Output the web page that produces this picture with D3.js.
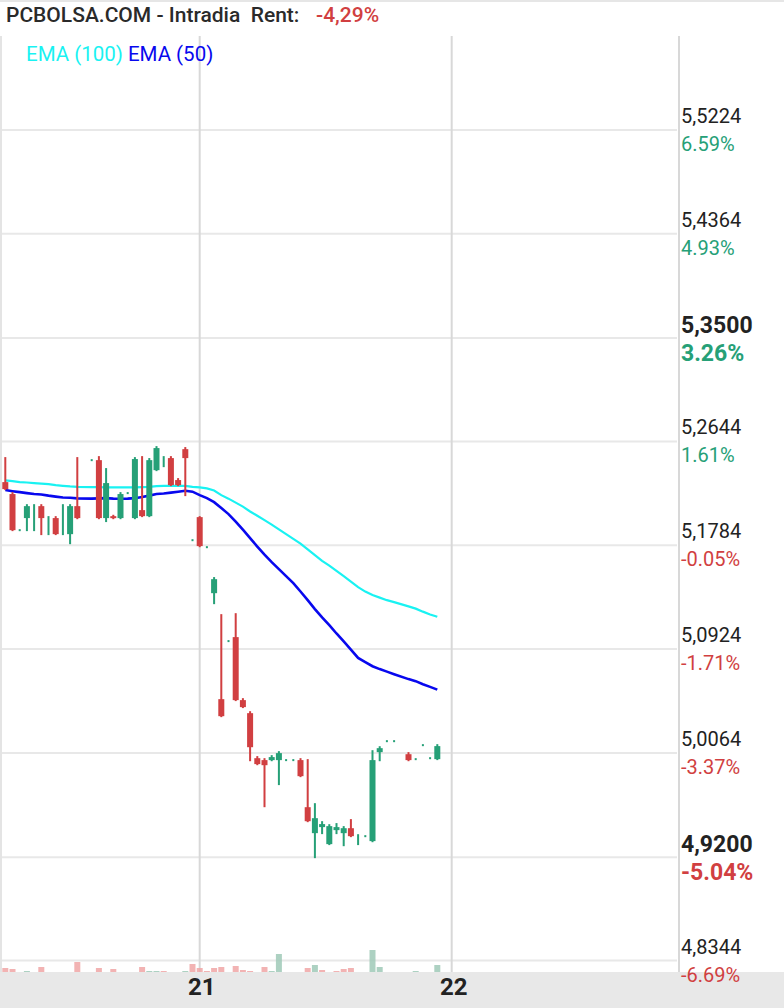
<!DOCTYPE html>
<html>
<head>
<meta charset="utf-8">
<script src="https://cdn.jsdelivr.net/npm/d3@7"></script>
<style>
  body { margin: 0; background: #fff; }
  svg { display: block; font-family: Roboto, "Noto Sans", sans-serif; }
</style>
</head>
<body>
<div id="chart"></div>
<script>
// intraday 15 min candles, index = slot (null = no trade in that slot)
var opens = [5.2307,5.2208,5.1909,5.2009,5.2108,5.2108,5.2009,5.2009,5.2108,5.1876,5.2108,null,
  5.2489,5.2489,5.2009,5.2025,5.2009,5.2216,5.2009,5.2075,5.2025,5.2406,5.2431,5.2506,5.2324,5.2580,
  5.1826,5.2017,5.1768,5.1387,5.0509,5.0990,5.1023,5.0501,5.0393,5.0020,5.0004,5.0004,5.0004,5.0004,
  5.0004,5.0004,4.9614,4.9399,4.9449,4.9308,4.9424,4.9399,4.9440,4.9382,4.9374,4.9333,5.0070,5.0161,
  5.0161,null,5.0053,5.0012,5.0128,5.0020,5.0012]
var highs = [5.2506,5.2216,5.1909,5.2116,5.2116,5.2116,5.2017,5.2017,5.2116,5.2116,5.2506,null,
  5.2489,5.2514,5.2415,5.2028,5.2216,5.2216,5.2506,5.2514,5.2498,5.2597,5.2514,5.2514,5.2332,5.2589,
  5.1826,5.2017,5.1768,5.1512,5.1205,5.0990,5.1213,5.0509,5.0401,5.0029,5.0012,5.0037,5.0070,5.0004,
  5.0004,5.0012,5.0004,4.9639,4.9490,4.9465,4.9474,4.9449,4.9507,4.9382,4.9374,5.0078,5.0111,5.0161,
  5.0161,null,5.0062,5.0012,5.0128,5.0020,5.0128]
var lows = [5.2241,5.1901,5.1909,5.1901,5.1901,5.1868,5.1868,5.1868,5.1868,5.1793,5.2000,null,
  5.2489,5.2000,5.1976,5.2000,5.2000,5.2216,5.2000,5.2017,5.2017,5.2398,5.2431,5.2274,5.2274,5.2191,
  5.1826,5.1768,5.1768,5.1296,5.0360,5.0990,5.0493,5.0435,4.9995,4.9962,4.9614,4.9995,4.9797,5.0004,
  5.0004,4.9863,4.9490,4.9192,4.9391,4.9300,4.9391,4.9291,4.9366,4.9300,4.9374,4.9324,4.9995,5.0161,
  5.0161,null,4.9995,5.0012,5.0128,5.0020,5.0004]
var closes = [5.2249,5.1909,5.1909,5.2108,5.2108,5.2009,5.2009,5.1876,5.2108,5.2108,5.2009,null,
  5.2489,5.2009,5.2299,5.2009,5.2208,5.2216,5.2498,5.2025,5.2489,5.2589,5.2431,5.2282,5.2282,5.2506,
  5.1826,5.1777,5.1768,5.1503,5.0368,5.0990,5.0501,5.0443,5.0111,4.9971,4.9962,5.0029,5.0062,5.0004,
  5.0004,4.9871,4.9498,4.9523,4.9474,4.9457,4.9449,4.9440,4.9374,4.9382,4.9374,5.0004,5.0103,5.0161,
  5.0161,null,5.0004,5.0012,5.0128,5.0020,5.0120]
var volumes = [10000,7500,0,2500,0,12500,0,0,0,0,25000,null,
  0,10000,0,7500,0,0,0,12500,2500,2500,2500,0,0,2500,
  20000,10000,2500,10000,12500,0,15000,5000,2500,0,12500,2500,45000,0,
  0,0,10000,17500,5000,0,2500,7500,10000,0,0,55000,12500,0,
  0,null,0,2500,0,0,17500]
var ema100 = [5.2321,5.2315,5.2307,5.2304,5.2299,5.2295,5.2290,5.2282,5.2276,5.2271,5.2268,null,
  5.2266,5.2266,5.2263,5.2263,5.2263,5.2263,5.2263,5.2266,5.2268,5.2274,5.2276,5.2276,5.2276,5.2276,
  5.2268,5.2263,5.2255,5.2237,5.2199,5.2170,5.2137,5.2104,5.2064,5.2028,5.1992,5.1955,5.1915,5.1876,
  5.1837,5.1797,5.1749,5.1702,5.1655,5.1615,5.1571,5.1528,5.1483,5.1437,5.1400,5.1371,5.1350,5.1329,
  5.1313,null,5.1278,5.1259,5.1234,5.1211,5.1191]
var ema50 = [5.2241,5.2232,5.2224,5.2216,5.2209,5.2205,5.2195,5.2187,5.2180,5.2177,5.2172,null,
  5.2170,5.2172,5.2174,5.2170,5.2169,5.2170,5.2174,5.2183,5.2195,5.2208,5.2213,5.2220,5.2227,5.2235,
  5.2228,5.2199,5.2174,5.2141,5.2092,5.2042,5.1980,5.1913,5.1843,5.1773,5.1706,5.1644,5.1586,5.1528,
  5.1470,5.1401,5.1329,5.1255,5.1186,5.1122,5.1053,5.0987,5.0919,5.0851,5.0816,5.0782,5.0758,5.0737,
  5.0716,null,5.0675,5.0658,5.0633,5.0611,5.0588]

var dayTicks = [27, 62]
var dayLabels = ["21", "22"]
var priceTicks = [5.5224, 5.4364, 5.35, 5.2644, 5.1784, 5.0924, 5.0064, 4.92, 4.8344]
var boldTicks = [5.35, 4.92]
var refPrice = 5.181

var W = 784, H = 1008
var plot = {left: 1, right: 679, top: 36, bottom: 972}
var red = "#d13f41", green = "#26a077"
var cyan = "#19f2f2", blue = "#0808ee"

var svg = d3.select("#chart").append("svg")
  .attr("width", W).attr("height", H)

var x = d3.scaleLinear().domain([0, 60]).range([5.3, 437.3])
var y = d3.scaleLinear().domain([4.8344, 5.5224]).range([960.5, 130])
var vol = d3.scaleLinear().domain([0, d3.max(volumes)]).range([0, 22])

var comma = d3.formatLocale({decimal: ",", thousands: ".", grouping: [3], currency: ["", "€"]})
var fmtPrice = comma.format(".4f")

// bars: one object per slot that traded
var bars = []
for (var i = 0; i < opens.length; i++){
  if (opens[i] == null) continue
  bars.push({i: i, o: opens[i], h: highs[i], l: lows[i], c: closes[i], v: volumes[i]})
}
for (var j = 0; j < bars.length; j++){
  var prev = j > 0 ? bars[j-1].c : bars[j].o
  bars[j].up = bars[j].c > prev
}

// header strip + bottom axis band
svg.append("rect").attr("x", 0).attr("y", 0).attr("width", W).attr("height", 2).style("fill", "#e6e6e6")
svg.append("rect").attr("x", 0).attr("y", plot.bottom).attr("width", W).attr("height", H - plot.bottom).style("fill", "#e8e8e8")

// horizontal grid
svg.selectAll(".hgrid").data(priceTicks).enter().append("line")
  .attr("x1", plot.left).attr("x2", plot.right - 2)
  .attr("y1", function(d){ return y(d) }).attr("y2", function(d){ return y(d) })
  .style("stroke", "#e8e8e8").style("stroke-width", 2)

// vertical day lines + frame
svg.selectAll(".vgrid").data(dayTicks).enter().append("line")
  .attr("x1", function(d){ return x(d) }).attr("x2", function(d){ return x(d) })
  .attr("y1", plot.top).attr("y2", plot.bottom)
  .style("stroke", "#d8d8d8").style("stroke-width", 2)
svg.append("line").attr("x1", plot.right).attr("x2", plot.right).attr("y1", plot.top).attr("y2", plot.bottom)
  .style("stroke", "#d8d8d8").style("stroke-width", 2)
svg.append("line").attr("x1", 1).attr("x2", 1).attr("y1", plot.top).attr("y2", plot.bottom)
  .style("stroke", "#e4e4e4").style("stroke-width", 2)

// volume
svg.selectAll(".vol").data(bars.filter(function(d){ return d.v > 0 })).enter().append("rect")
  .attr("x", function(d){ return x(d.i) - 3 })
  .attr("y", function(d){ return plot.bottom - vol(d.v) })
  .attr("width", 6)
  .attr("height", function(d){ return vol(d.v) })
  .style("fill", function(d){ return d.up ? "#9fc9b7" : "#f0a6a6" })
  .style("opacity", 0.85)

// ema lines
var emaLine = function(values){
  var pts = []
  values.forEach(function(v, i){ if (v != null) pts.push([x(i), y(v)]) })
  return d3.line()(pts)
}
svg.append("path").attr("d", emaLine(ema100))
  .attr("fill", "none").attr("stroke", cyan).attr("stroke-width", 2.2)
svg.append("path").attr("d", emaLine(ema50))
  .attr("fill", "none").attr("stroke", blue).attr("stroke-width", 2.6)

// candles
var candle = svg.selectAll(".candle").data(bars).enter().append("g")
candle.append("rect")
  .attr("x", function(d){ return x(d.i) - 1 })
  .attr("y", function(d){ return y(d.h) - 1 })
  .attr("width", 2)
  .attr("height", function(d){ return Math.max(2, y(d.l) - y(d.h) + 1) })
  .style("fill", function(d){ return d.c >= d.o ? green : red })
candle.filter(function(d){ return d.o != d.c }).append("rect")
  .attr("x", function(d){ return x(d.i) - 3 })
  .attr("y", function(d){ return y(Math.max(d.o, d.c)) })
  .attr("width", 6)
  .attr("height", function(d){ return Math.max(2, Math.abs(y(d.o) - y(d.c))) })
  .style("fill", function(d){ return d.c >= d.o ? green : red })

// right price axis
priceTicks.forEach(function(t){
  var bold = boldTicks.indexOf(t) >= 0
  var pct = (t / refPrice - 1) * 100
  svg.append("text")
    .attr("x", 681).attr("y", y(t) - (bold ? 5 : 7))
    .style("font-size", bold ? "23px" : "20px")
    .style("font-weight", bold ? "bold" : "normal")
    .style("fill", "#222")
    .text(fmtPrice(t))
  svg.append("text")
    .attr("x", 681).attr("y", y(t) + (bold ? 23 : 21))
    .style("font-size", bold ? "23px" : "20px")
    .style("font-weight", bold ? "bold" : "normal")
    .style("fill", pct >= 0 ? green : red)
    .text(pct.toFixed(2) + "%")
})

// day labels
svg.selectAll(".day").data(dayTicks).enter().append("text")
  .attr("x", function(d){ return x(d) + 2 }).attr("y", 995)
  .attr("text-anchor", "middle")
  .style("font-size", "24px").style("font-weight", "bold").style("fill", "#222")
  .text(function(d, i){ return dayLabels[i] })

// title + legend
svg.append("text").attr("x", 6).attr("y", 22)
  .style("font-size", "21px").style("font-weight", 500).style("fill", "#2a2a2a")
  .style("white-space", "pre")
  .text("PCBOLSA.COM - Intradia  Rent:")
svg.append("text").attr("x", 316).attr("y", 22)
  .style("font-size", "21px").style("font-weight", 500).style("fill", red)
  .text("-4,29%")
var leg1 = svg.append("text").attr("x", 26).attr("y", 61)
  .style("font-size", "20.5px").style("fill", cyan).text("EMA (100)")
svg.append("text").attr("x", 26 + leg1.node().getComputedTextLength() + 5).attr("y", 61)
  .style("font-size", "20.5px").style("fill", blue).text("EMA (50)")
</script>
</body>
</html>
